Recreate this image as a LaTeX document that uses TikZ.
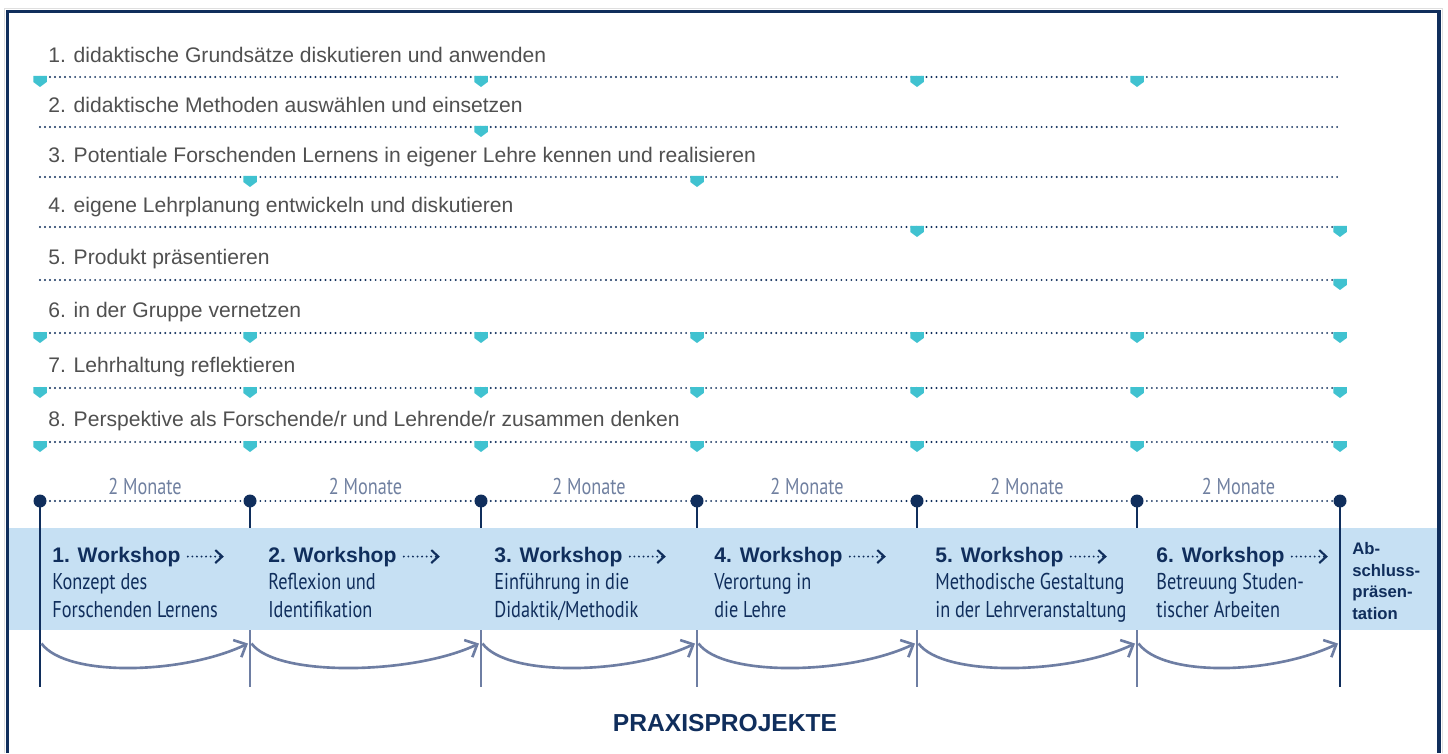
\documentclass[tikz,border=0pt]{standalone}
\usepackage{fontspec}
\setmainfont{Liberation Sans}
\newfontfamily\condfont[FakeStretch=0.8]{PT Sans}
\usepackage{tikz}
\usetikzlibrary{arrows.meta,calc}
\definecolor{FrameNavy}{RGB}{16,46,92}
\definecolor{MarkTeal}{RGB}{64,194,208}
\definecolor{BandBlue}{RGB}{198,224,243}
\definecolor{ArcGray}{RGB}{110,126,163}
\definecolor{RowGray}{RGB}{80,80,80}
\definecolor{MonthGray}{RGB}{112,128,160}
\tikzset{
    rowtext/.style={anchor=base west, inner sep=0pt, font=\fontsize{12}{14}\selectfont, text=RowGray},
    dotline/.style={FrameNavy, line width=1.2pt, line cap=round, dash pattern=on 0pt off 2.85pt},
    tdot/.style={circle, fill=FrameNavy, inner sep=0pt, minimum size=0.26cm},
    monate/.style={anchor=base, yshift=0.14cm, inner sep=0pt, font=\condfont\fontsize{13}{15}\selectfont, text=MonthGray},
    wstitle/.style={anchor=base west, inner sep=0pt, font=\bfseries\fontsize{12}{14}\selectfont, text=FrameNavy},
    wssub/.style={anchor=base west, inner sep=0pt, align=left, font=\condfont\fontsize{13}{15.9}\selectfont, text=FrameNavy},
    dotarr/.style={FrameNavy, line width=1.2pt, line cap=round, dash pattern=on 0pt off 2.6pt, -{Straight Barb[length=1.4mm, width=2.6mm]}},
    stemnavy/.style={FrameNavy, line width=1.5pt},
    stemgray/.style={ArcGray, line width=1.4pt},
    arcarr/.style={ArcGray, line width=1.5pt, -{Straight Barb[length=2mm, width=3.8mm]}},
    band/.style={fill=BandBlue, inner sep=0pt, minimum width=28.56cm, minimum height=2.04cm},
}
% teal goal marker hanging under a dotted line
\newcommand{\goalmark}[1]{\fill[MarkTeal] (#1) ++(-0.135,0.02) -- ++(0.27,0) -- ++(0,-0.12) -- ++(-0.135,-0.10) -- ++(-0.135,0.10) -- cycle;}

\begin{document}
\begin{tikzpicture}
\useasboundingbox (0,0) rectangle (28.96,15.06);
% frame (open at the bottom)
\draw[gray!25, line width=0.4pt] (0.08,0) -- (0.08,14.89) -- (28.84,14.89) -- (28.84,0);
\draw[FrameNavy, line width=1.8pt] (0.146,0) -- (0.146,14.83) -- (28.78,14.83) -- (28.78,0);

% workshop band
\node[band] (band) at (14.46,3.48) {};

% timeline columns
\foreach \i/\x in {0/0.80,1/5.00,2/9.62,3/13.94,4/18.34,5/22.74,6/26.80} {
    \coordinate (c\i) at (\x,5.04);
    \coordinate (e\i) at (\x,1.32);
    \coordinate (a\i) at (\x,2.19);
}

% learning goals
\coordinate (r1) at (0,13.52);
\coordinate (r2) at (0,12.52);
\coordinate (r3) at (0,11.52);
\coordinate (r4) at (0,10.52);
\coordinate (r5) at (0,9.46);
\coordinate (r6) at (0,8.40);
\coordinate (r7) at (0,7.30);
\coordinate (r8) at (0,6.22);
\node[rowtext] (g1) at (0.96,13.81) {1. didaktische Grundsätze diskutieren und anwenden};
\node[rowtext] (g2) at (0.96,12.81) {2. didaktische Methoden auswählen und einsetzen};
\node[rowtext] (g3) at (0.96,11.81) {3. Potentiale Forschenden Lernens in eigener Lehre kennen und realisieren};
\node[rowtext] (g4) at (0.96,10.81) {4. eigene Lehrplanung entwickeln und diskutieren};
\node[rowtext] (g5) at (0.96,9.77) {5. Produkt präsentieren};
\node[rowtext] (g6) at (0.96,8.71) {6. in der Gruppe vernetzen};
\node[rowtext] (g7) at (0.96,7.61) {7. Lehrhaltung reflektieren};
\node[rowtext] (g8) at (0.96,6.53) {8. Perspektive als Forschende/r und Lehrende/r zusammen denken};
\foreach \k in {1,...,8}
    \draw[dotline] (c0 |- r\k) -- (c6 |- r\k);
\foreach \k/\marks in {1/{0,2,4,5},2/{2},3/{1,3},4/{4,6},5/{6},6/{0,...,6},7/{0,...,6},8/{0,...,6}}
    \foreach \m in \marks {\goalmark{c\m |- r\k}}

% two-month steps
\draw[dotline] (c0) -- (c6);
\draw[stemnavy] (c0) -- (e0);
\draw[stemnavy] (c6) -- (e6);
\foreach \i in {1,...,5} {
    \draw[stemnavy] (c\i) -- (c\i |- band.north);
    \draw[stemgray] (c\i |- band.south) -- (e\i);
}
\foreach \i in {0,...,6}
    \node[tdot] (d\i) at (c\i) {};
\path (d0) -- node[monate] (m1) {2 Monate} (d1);
\path (d1) -- node[monate] (m2) {2 Monate} (d2);
\path (d2) -- node[monate] (m3) {2 Monate} (d3);
\path (d3) -- node[monate] (m4) {2 Monate} (d4);
\path (d4) -- node[monate] (m5) {2 Monate} (d5);
\path (d5) -- node[monate] (m6) {2 Monate} (d6);

% workshops (sub-text nodes sit on their last baseline)
\node[wstitle] (w1) at (1.04,3.82) {1. Workshop};
\node[wstitle] (w2) at (5.36,3.82) {2. Workshop};
\node[wstitle] (w3) at (9.88,3.82) {3. Workshop};
\node[wstitle] (w4) at (14.28,3.82) {4. Workshop};
\node[wstitle] (w5) at (18.70,3.82) {5. Workshop};
\node[wstitle] (w6) at (23.12,3.82) {6. Workshop};
\foreach \i in {1,...,6}
    \draw[dotarr] ([xshift=0.14cm]w\i.east) -- ++(0.72,0);
\node[wssub] (s1) at (1.04,2.72) {Konzept des\\Forschenden Lernens};
\node[wssub] (s2) at (5.36,2.72) {Reflexion und\\Identifikation};
\node[wssub] (s3) at (9.88,2.72) {Einführung in die\\Didaktik/Methodik};
\node[wssub] (s4) at (14.28,2.72) {Verortung in\\die Lehre};
\node[wssub] (s5) at (18.70,2.72) {Methodische Gestaltung\\in der Lehrveranstaltung};
\node[wssub] (s6) at (23.12,2.72) {Betreuung Studen-\\tischer Arbeiten};
\node[anchor=base west, inner sep=0pt, align=left, text=FrameNavy, font=\bfseries\fontsize{9.5}{12.2}\selectfont] (fin) at (27.04,2.68) {Ab-\\schluss-\\präsen-\\tation};

% practice projects between the workshops
\foreach \i [count=\j] in {0,...,5}
    \draw[arcarr] ([xshift=0.03cm]a\i) .. controls +(0.5,-0.68) and +(-1.3,-0.62) .. ([xshift=-0.04cm]a\j);
\node[anchor=base, inner sep=0pt, text=FrameNavy, font=\bfseries\fontsize{14}{16}\selectfont] (praxis) at (14.50,0.44) {PRAXISPROJEKTE};
\end{tikzpicture}
\end{document}
